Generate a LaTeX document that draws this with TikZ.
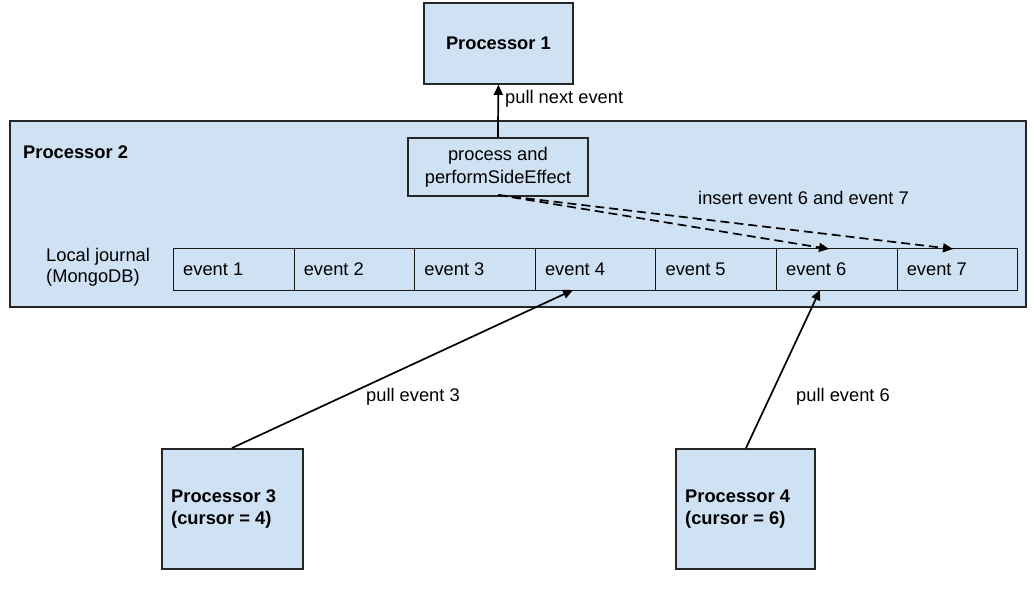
\documentclass[tikz,border=0pt]{standalone}
\usepackage{fontspec}
\setmainfont{Liberation Sans}
\usetikzlibrary{arrows.meta}
\definecolor{boxblue}{HTML}{CFE2F3}
\begin{document}
\begin{tikzpicture}[x=1pt,y=-1pt,
  txt/.style={font=\fontsize{18.3}{21}\selectfont, inner sep=0pt},
  btxt/.style={font=\fontsize{18.3}{22}\selectfont\bfseries, inner sep=0pt},
  procbox/.style={draw=black!85, fill=boxblue, line width=1.8pt, inner sep=0pt},
  cell/.style={draw=black!90, fill=boxblue, line width=1pt, inner sep=0pt, minimum width=120.6pt, minimum height=42pt},
  arr/.style={line width=1.7pt, -{Triangle[length=10pt,width=9pt]}},
  darr/.style={line width=1.7pt, dash pattern=on 9pt off 5pt, -{Triangle[length=10pt,width=9pt]}}]
\useasboundingbox (0,0) rectangle (1034,605);
\fill[white] (0,0) rectangle (1034,605);
% Processor 2 container
\node[procbox, minimum width=1016pt, minimum height=186pt, anchor=north west] (p2) at (9,120) {};
\node[btxt, anchor=west] (p2l) at (23,152) {Processor 2};
\node[txt, anchor=west, align=left] (lj) at (46,267) {Local journal\\(MongoDB)};
% Processor 1
\node[procbox, minimum width=149pt, minimum height=81pt, anchor=north west] (p1) at (423,2) {};
\node[btxt] (p1l) at (p1.center) {Processor 1};
% process box
\node[procbox, minimum width=180pt, minimum height=58pt, anchor=north west, align=center, font=\fontsize{18.3}{23}\selectfont] (proc) at (407,137) {process and\\performSideEffect};
% event cells
\foreach \i in {1,...,7}{
  \node[cell, anchor=north west] (e\i) at ({173+120.6*(\i-1)},248) {};
  \node[txt, anchor=west] (e\i l) at ([xshift=10pt]e\i.west) {event \i};
}
% Processor 3 and 4
\node[procbox, minimum width=141pt, minimum height=120pt, anchor=north west] (p3) at (161,448) {};
\node[btxt, anchor=west, align=left] (p3l) at (171,509) {Processor 3\\(cursor = 4)};
\node[procbox, minimum width=139pt, minimum height=120pt, anchor=north west] (p4) at (675,448) {};
\node[btxt, anchor=west, align=left] (p4l) at (685,509) {Processor 4\\(cursor = 6)};
% coordinates
\coordinate (ps) at (498,195);
\coordinate (p3t) at (232,448);
\coordinate (p4t) at (746,448);
\coordinate (e4b) at (573,290);
\coordinate (e6b) at (820,290);
\coordinate (e6t) at (829,249);
\coordinate (e7t) at (953,249);
% connectors
\draw[arr] (proc.north) -- (p1.south);
\node[txt, anchor=west] (pne) at (505,99) {pull next event};
\draw[darr] (ps) -- (e6t);
\draw[darr] (ps) -- (e7t);
\node[txt, anchor=west] (ins) at (698,198) {insert event 6 and event 7};
\draw[arr] (p3t) -- (e4b);
\node[txt, anchor=west] (pe3) at (366,397) {pull event 3};
\draw[arr] (p4t) -- (e6b);
\node[txt, anchor=west] (pe6) at (796,397) {pull event 6};
\end{tikzpicture}
\end{document}
